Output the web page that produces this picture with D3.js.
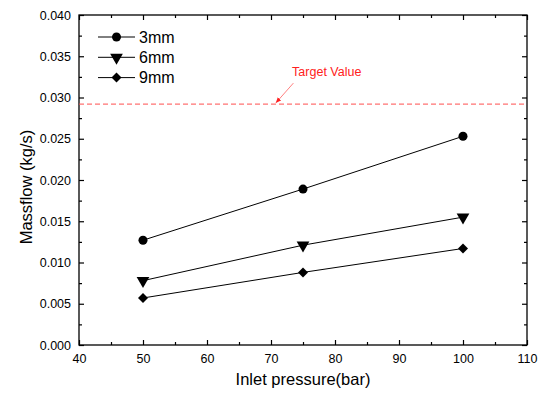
<!DOCTYPE html>
<html>
<head>
<meta charset="utf-8">
<script src="https://cdn.jsdelivr.net/npm/d3@7"></script>
<style>
  body { margin: 0; background: #fff; }
  svg text { font-family: Arial, "Liberation Sans", sans-serif; }
</style>
</head>
<body>
<div id="chart"></div>
<script>
// data
const pressures = [50, 75, 100];
const flow3mm = [0.0127, 0.0189, 0.0253];
const flow6mm = [0.0078, 0.0121, 0.0155];
const flow9mm = [0.0057, 0.0088, 0.0117];
const seriesNames = ["3mm", "6mm", "9mm"];
const targetValue = 0.0292;
const xTicks = [40, 50, 60, 70, 80, 90, 100, 110];
const yTicks = [0, 0.005, 0.01, 0.015, 0.02, 0.025, 0.03, 0.035, 0.04];

const W = 545, H = 394;
const margin = { top: 15, right: 18, bottom: 49, left: 79 },
  width = W - margin.left - margin.right,
  height = H - margin.top - margin.bottom;

const svg = d3.select("#chart").append("svg")
  .attr("width", W)
  .attr("height", H);

const g = svg.append("g")
  .attr("transform", "translate(" + margin.left + "," + margin.top + ")");

const x = d3.scaleLinear().domain([40, 110]).range([0, width]);
const y = d3.scaleLinear().domain([0, 0.04]).range([height, 0]);

const minorX = d3.range(45, 110, 10);
const minorY = d3.range(0.0025, 0.04, 0.005);

// all ticks point inward, on all four sides
function drawAxis(axis, transform, cls) {
  const a = g.append("g").attr("class", cls).attr("transform", transform).call(axis);
  a.select(".domain").remove();
  a.selectAll("line").attr("stroke", "#000").attr("stroke-width", 1.2);
  return a;
}

drawAxis(d3.axisBottom(x).tickValues(xTicks).tickSize(-5).tickPadding(9).tickFormat(d3.format("d")),
  "translate(0," + height + ")", "axis axis--x")
  .selectAll("text").attr("font-size", 12.5).attr("fill", "#000");
drawAxis(d3.axisBottom(x).tickValues(minorX).tickSize(-3).tickFormat(""),
  "translate(0," + height + ")", "axis axis--xminor");
drawAxis(d3.axisTop(x).tickValues(xTicks).tickSize(-5).tickFormat(""), "translate(0,0)", "axis");
drawAxis(d3.axisTop(x).tickValues(minorX).tickSize(-3).tickFormat(""), "translate(0,0)", "axis");

drawAxis(d3.axisLeft(y).tickValues(yTicks).tickSize(-5).tickPadding(8).tickFormat(d3.format(".3f")),
  "translate(0,0)", "axis axis--y")
  .selectAll("text").attr("font-size", 12.5).attr("fill", "#000");
drawAxis(d3.axisLeft(y).tickValues(minorY).tickSize(-3).tickFormat(""), "translate(0,0)", "axis");
drawAxis(d3.axisRight(y).tickValues(yTicks).tickSize(-5).tickFormat(""),
  "translate(" + width + ",0)", "axis");
drawAxis(d3.axisRight(y).tickValues(minorY).tickSize(-3).tickFormat(""),
  "translate(" + width + ",0)", "axis");

// frame
g.append("rect")
  .attr("width", width)
  .attr("height", height)
  .attr("fill", "none")
  .attr("stroke", "#000")
  .attr("stroke-width", 1.3);

// target line
g.append("line")
  .attr("x1", 0).attr("x2", width)
  .attr("y1", y(targetValue)).attr("y2", y(targetValue))
  .attr("stroke", "#ff4d4d")
  .attr("stroke-width", 1)
  .attr("stroke-dasharray", "5,3");

svg.append("defs").append("marker")
  .attr("id", "arrowhead")
  .attr("viewBox", "0 0 10 10")
  .attr("refX", 9).attr("refY", 5)
  .attr("markerWidth", 7).attr("markerHeight", 7)
  .attr("orient", "auto")
  .append("path")
  .attr("d", "M0,1L10,5L0,9Z")
  .attr("fill", "#ff2020");

g.append("line")
  .attr("x1", x(73.5)).attr("y1", y(targetValue) - 21)
  .attr("x2", x(70.8)).attr("y2", y(targetValue) - 1.5)
  .attr("stroke", "#ff6060")
  .attr("stroke-width", 0.8)
  .attr("marker-end", "url(#arrowhead)");

g.append("text")
  .attr("x", x(73.3)).attr("y", y(targetValue) - 28)
  .attr("font-size", 12.5)
  .attr("fill", "#ff2020")
  .text("Target Value");

// series
const allSeries = [flow3mm, flow6mm, flow9mm];
const symbols = [
  d3.symbol().type(d3.symbolCircle).size(64),
  d3.symbol().type(d3.symbolTriangle).size(70),
  d3.symbol().type(d3.symbolSquare).size(50)
];
const symbolRotate = [0, 180, 45];

const line = d3.line()
  .x((d, i) => x(pressures[i]))
  .y(d => y(d));

allSeries.forEach((vals, s) => {
  g.append("path")
    .datum(vals)
    .attr("fill", "none")
    .attr("stroke", "#000")
    .attr("stroke-width", 1)
    .attr("d", line);

  g.selectAll(".pt" + s)
    .data(vals)
    .enter().append("path")
    .attr("class", "pt" + s)
    .attr("d", symbols[s])
    .attr("fill", "#000")
    .attr("transform", (d, i) =>
      "translate(" + x(pressures[i]) + "," + y(d) + ") rotate(" + symbolRotate[s] + ")");
});

// legend
const legend = g.append("g").attr("transform", "translate(19,22)");
seriesNames.forEach((name, s) => {
  const row = legend.append("g").attr("transform", "translate(0," + (s * 20.3) + ")");
  row.append("line")
    .attr("x1", 0).attr("x2", 37)
    .attr("stroke", "#000").attr("stroke-width", 1);
  row.append("path")
    .attr("d", symbols[s])
    .attr("fill", "#000")
    .attr("transform", "translate(18.5,0) rotate(" + symbolRotate[s] + ")");
  row.append("text")
    .attr("x", 41).attr("y", 5.5)
    .attr("font-size", 16)
    .attr("fill", "#000")
    .text(name);
});

// axis titles
svg.append("text")
  .attr("x", margin.left + width / 2)
  .attr("y", 385)
  .attr("text-anchor", "middle")
  .attr("font-size", 16.5)
  .text("Inlet pressure(bar)");

svg.append("text")
  .attr("transform", "translate(32," + (margin.top + height / 2 + 7) + ") rotate(-90)")
  .attr("text-anchor", "middle")
  .attr("font-size", 16.5)
  .text("Massflow (kg/s)");
</script>
</body>
</html>
